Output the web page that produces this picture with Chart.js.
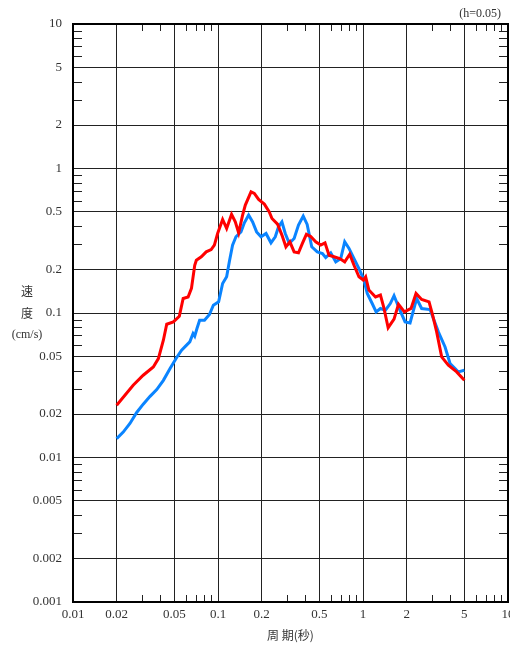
<!DOCTYPE html>
<html>
<head>
<meta charset="utf-8">
<script src="https://cdn.jsdelivr.net/npm/chart.js@4.4.1/dist/chart.umd.min.js"></script>
<style>
  body { margin: 0; background: #fff; }
  #chart { display: block; }
</style>
</head>
<body>
<canvas id="chart" width="510" height="645"></canvas>
<script>
const periodTicks = [0.01, 0.02, 0.05, 0.1, 0.2, 0.5, 1, 2, 5, 10];
const velocityTicks = [0.001, 0.002, 0.005, 0.01, 0.02, 0.05, 0.1, 0.2, 0.5, 1, 2, 5, 10];
const minorSteps = [3, 4, 6, 7, 8, 9];

// red spectrum (period s, velocity cm/s)
const redPeriods = [0.02, 0.026, 0.0305, 0.0358, 0.0388, 0.042, 0.0443, 0.0492, 0.0541, 0.0575,
  0.0622, 0.0656, 0.0691, 0.0709, 0.0767, 0.0829, 0.0897, 0.0944, 0.0994, 0.1076,
  0.1147, 0.124, 0.1316, 0.1388, 0.1478, 0.1543, 0.169, 0.178, 0.1906, 0.2087,
  0.2258, 0.2356, 0.2575, 0.276, 0.294, 0.313, 0.335, 0.359, 0.382, 0.407,
  0.436, 0.472, 0.511, 0.547, 0.583, 0.631, 0.691, 0.748, 0.81, 0.867,
  0.938, 1.005, 1.043, 1.098, 1.22, 1.319, 1.389, 1.491, 1.637, 1.757,
  1.93, 2.145, 2.321, 2.538, 2.855, 3.022, 3.221, 3.487, 3.879, 4.425, 5.0];
const redVelocity = [0.023, 0.0316, 0.0371, 0.0423, 0.0484, 0.0648, 0.0836, 0.0868, 0.095, 0.126,
  0.129, 0.148, 0.214, 0.232, 0.245, 0.265, 0.275, 0.295, 0.355, 0.444,
  0.385, 0.481, 0.427, 0.359, 0.476, 0.558, 0.69, 0.673, 0.611, 0.567,
  0.501, 0.451, 0.412, 0.346, 0.287, 0.311, 0.265, 0.261, 0.303, 0.35,
  0.338, 0.311, 0.295, 0.306, 0.251, 0.245, 0.238, 0.226, 0.255, 0.214,
  0.178, 0.169, 0.178, 0.144, 0.129, 0.133, 0.11, 0.0791, 0.0906, 0.115,
  0.1018, 0.1076, 0.1365, 0.124, 0.1194, 0.0966, 0.074, 0.0497, 0.0435, 0.0391, 0.0342];

// blue spectrum
const bluePeriods = [0.02, 0.0222, 0.0247, 0.0275, 0.0305, 0.034, 0.0378, 0.042, 0.0467, 0.0519,
  0.0561, 0.06, 0.0639, 0.0673, 0.0691, 0.0716, 0.0747, 0.0807, 0.0873, 0.0929,
  0.101, 0.1076, 0.1147, 0.1197, 0.126, 0.133, 0.144, 0.152, 0.1626, 0.1733,
  0.1846, 0.198, 0.2144, 0.2319, 0.2483, 0.2616, 0.276, 0.291, 0.31, 0.335,
  0.359, 0.387, 0.412, 0.443, 0.484, 0.525, 0.553, 0.599, 0.649, 0.702,
  0.748, 0.801, 0.867, 0.938, 1.016, 1.07, 1.157, 1.232, 1.319, 1.427,
  1.543, 1.637, 1.785, 1.951, 2.111, 2.344, 2.538, 2.9, 3.309, 3.681,
  3.985, 4.314, 4.547, 5.0];
const blueVelocity = [0.0135, 0.015, 0.0172, 0.0205, 0.0234, 0.0265, 0.0295, 0.0342, 0.0413, 0.0492,
  0.0553, 0.0592, 0.0631, 0.0721, 0.0691, 0.0781, 0.0891, 0.0891, 0.0976, 0.1132,
  0.1194, 0.16, 0.178, 0.226, 0.295, 0.337, 0.364, 0.421, 0.476, 0.427,
  0.364, 0.337, 0.355, 0.306, 0.337, 0.395, 0.427, 0.355, 0.303, 0.328,
  0.406, 0.468, 0.41, 0.287, 0.265, 0.258, 0.242, 0.261, 0.226, 0.238,
  0.311, 0.28, 0.238, 0.203, 0.169, 0.1365, 0.1163, 0.1018, 0.1074, 0.1046,
  0.1163, 0.1318, 0.1062, 0.0868, 0.0854, 0.126, 0.1074, 0.1057, 0.074, 0.0582,
  0.0447, 0.0413, 0.0391, 0.0402];

const toPoints = (xs, ys) => xs.map((x, i) => ({ x: x, y: ys[i] }));

const serif = "'Liberation Serif', 'DejaVu Serif', serif";
const cjk = "'Noto Sans CJK JP', 'Noto Sans CJK SC', sans-serif";

const decorations = {
    id: "decorations",
    afterDraw(chart) {
        const { ctx, chartArea: a, scales: { x, y } } = chart;
        ctx.save();

        // minor ticks on all four sides
        ctx.strokeStyle = "#222";
        ctx.lineWidth = 1;
        ctx.beginPath();
        [0.01, 0.1, 1].forEach(d => minorSteps.forEach(m => {
            const px = Math.round(x.getPixelForValue(d * m)) + 0.5;
            ctx.moveTo(px, a.bottom);
            ctx.lineTo(px, a.bottom - 7);
            ctx.moveTo(px, a.top);
            ctx.lineTo(px, a.top + 7);
        }));
        [0.001, 0.01, 0.1, 1].forEach(d => minorSteps.forEach(m => {
            const py = Math.round(y.getPixelForValue(d * m)) + 0.5;
            ctx.moveTo(a.left, py);
            ctx.lineTo(a.left + 9, py);
            ctx.moveTo(a.right, py);
            ctx.lineTo(a.right - 9, py);
        }));
        ctx.stroke();

        // frame
        ctx.lineWidth = 2;
        ctx.strokeStyle = "#000";
        ctx.strokeRect(a.left, a.top, a.width, a.height);

        // texts
        ctx.fillStyle = "#333";
        ctx.textBaseline = "middle";
        ctx.textAlign = "right";
        ctx.font = "12px " + serif;
        ctx.fillText("(h=0.05)", 501, 14);

        ctx.textAlign = "center";
        ctx.font = "12px " + cjk;
        ctx.fillText("速", 27, 291);
        ctx.fillText("度", 27, 313);
        ctx.font = "12px " + serif;
        ctx.fillText("(cm/s)", 27, 335);
        ctx.restore();
    }
};

const ctx = document.getElementById("chart").getContext("2d");

new Chart(ctx, {
    type: "line",
    data: {
        datasets: [
            {
                label: "red",
                data: toPoints(redPeriods, redVelocity),
                borderColor: "#ff0000",
                borderWidth: 3,
                pointRadius: 0,
                fill: false,
                tension: 0
            },
            {
                label: "blue",
                data: toPoints(bluePeriods, blueVelocity),
                borderColor: "#0a84ff",
                borderWidth: 3,
                pointRadius: 0,
                fill: false,
                tension: 0
            }
        ]
    },
    options: {
        responsive: false,
        animation: false,
        layout: { padding: { top: 24, right: 2, left: 0, bottom: 0 } },
        plugins: {
            legend: { display: false },
            tooltip: { enabled: false }
        },
        scales: {
            x: {
                type: "logarithmic",
                min: 0.01,
                max: 10,
                afterBuildTicks: scale => {
                    scale.ticks = periodTicks.map(v => ({ value: v }));
                },
                afterFit: scale => {
                    scale.height = 43;
                    scale.paddingLeft = 0;
                    scale.paddingRight = 0;
                },
                grid: { color: "#222", lineWidth: 1, drawTicks: false },
                border: { display: false },
                ticks: {
                    autoSkip: false,
                    maxRotation: 0,
                    padding: 5,
                    color: "#333",
                    font: { family: serif, size: 13 },
                    callback: v => String(v)
                },
                title: {
                    display: true,
                    text: "周 期(秒)",
                    color: "#333",
                    font: { family: cjk, size: 12 },
                    padding: { top: 0, bottom: 2 }
                }
            },
            y: {
                type: "logarithmic",
                min: 0.001,
                max: 10,
                afterBuildTicks: scale => {
                    scale.ticks = velocityTicks.map(v => ({ value: v }));
                },
                afterFit: scale => {
                    scale.width = 73;
                    scale.paddingTop = 0;
                    scale.paddingBottom = 0;
                },
                grid: { color: "#222", lineWidth: 1, drawTicks: false },
                border: { display: false },
                ticks: {
                    autoSkip: false,
                    padding: 11,
                    color: "#333",
                    font: { family: serif, size: 13 },
                    callback: v => String(v)
                }
            }
        }
    },
    plugins: [decorations]
});
</script>
</body>
</html>
